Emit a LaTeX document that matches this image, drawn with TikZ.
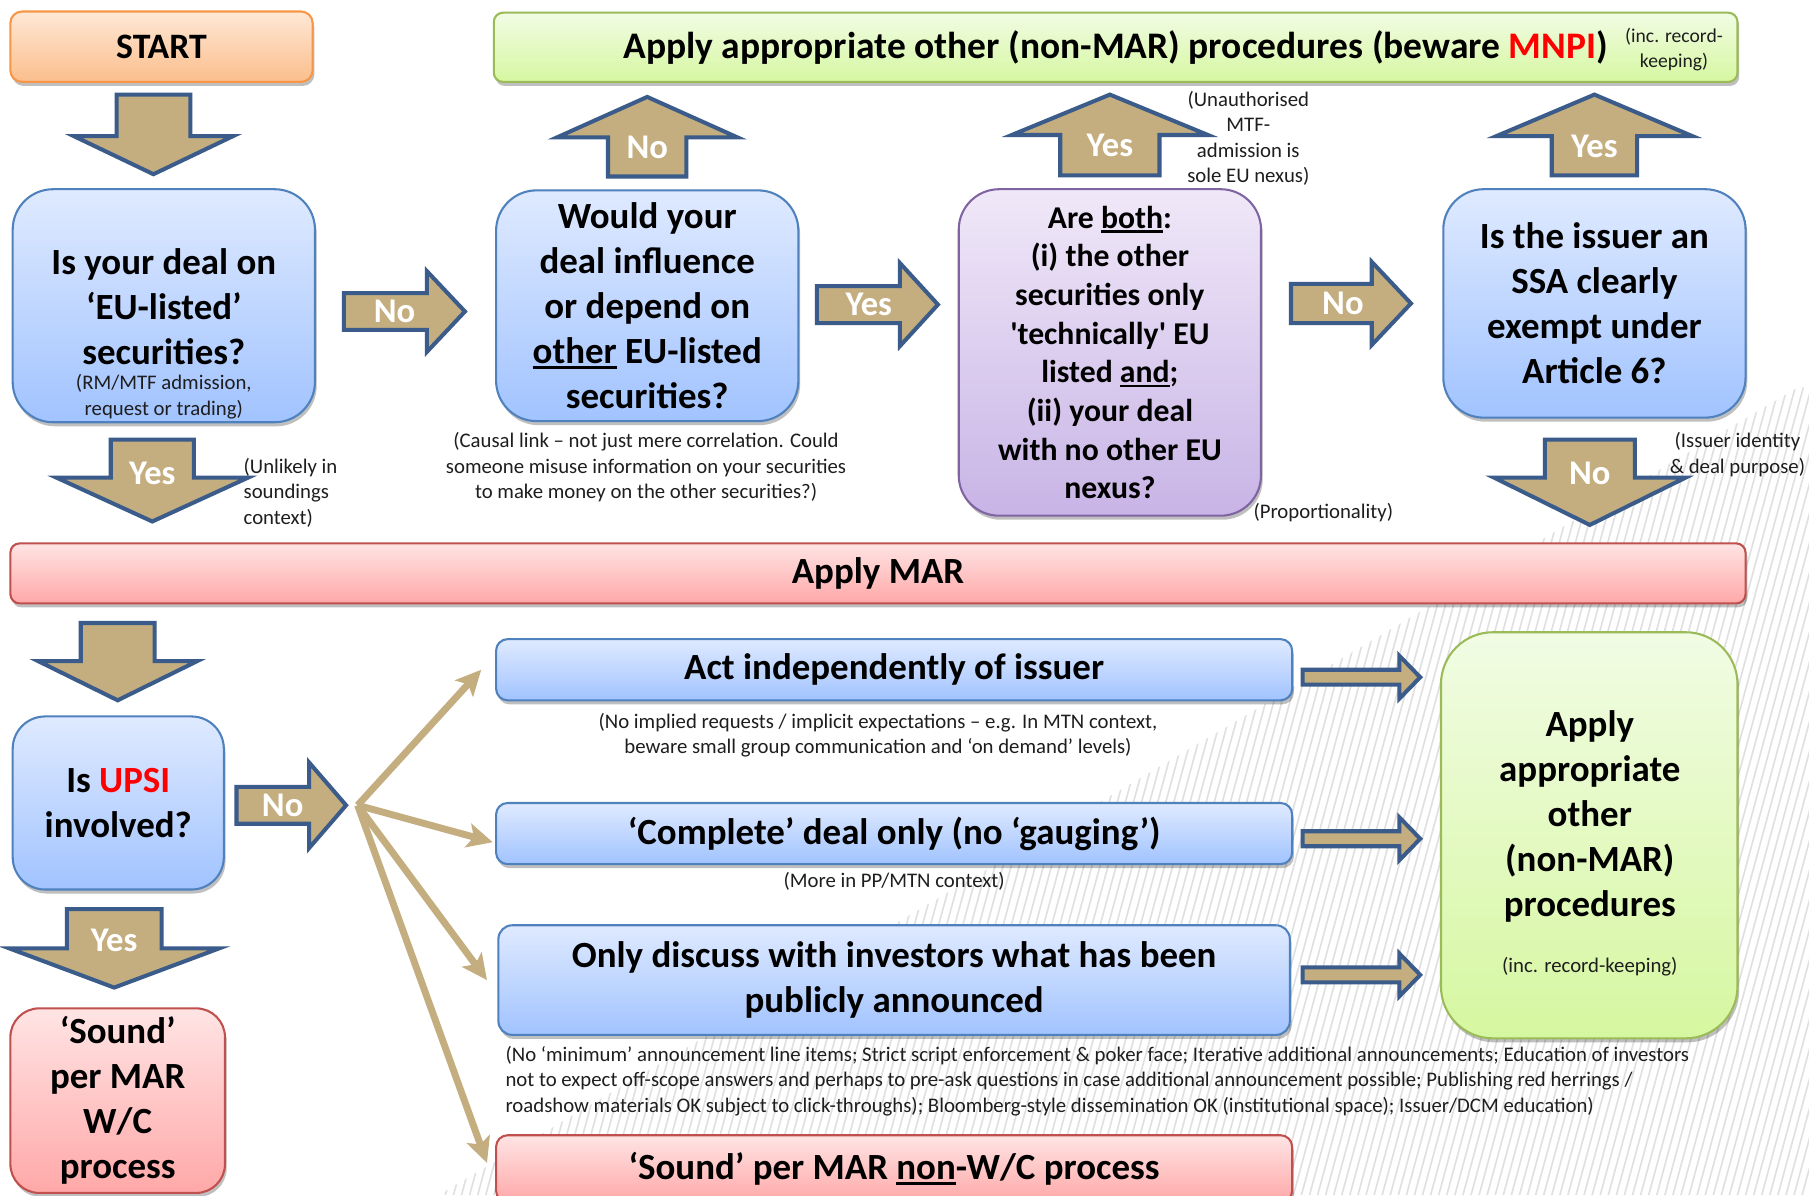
\documentclass[tikz,border=0pt]{standalone}
\usepackage{fontspec}
\setmainfont{Carlito}
\newfontfamily\rawfont{Carlito}[Ligatures=ResetAll]
\usetikzlibrary{shadows,arrows.meta,calc}

\definecolor{tan}{RGB}{196,174,127}
\definecolor{arrblue}{RGB}{59,92,138}
\definecolor{bluetop}{RGB}{223,234,255}
\definecolor{bluebot}{RGB}{161,195,255}
\definecolor{blueedge}{RGB}{79,129,189}
\definecolor{purtop}{RGB}{240,232,248}
\definecolor{purbot}{RGB}{200,180,230}
\definecolor{puredge}{RGB}{128,100,162}
\definecolor{redtop}{RGB}{255,228,228}
\definecolor{redbot}{RGB}{255,168,168}
\definecolor{rededge}{RGB}{192,80,77}
\definecolor{grntop}{RGB}{241,252,228}
\definecolor{grnbot}{RGB}{214,247,160}
\definecolor{grnedge}{RGB}{155,187,89}
\definecolor{orgtop}{RGB}{254,232,214}
\definecolor{orgbot}{RGB}{251,190,140}
\definecolor{orgedge}{RGB}{247,150,70}
\definecolor{hotred}{RGB}{255,0,0}
\definecolor{hatchgrey}{RGB}{224,224,224}
\definecolor{captext}{RGB}{30,30,30}

\newcommand{\myul}[2][4.5pt]{\setbox0\hbox{#2}\rlap{\rule[-#1]{\wd0}{2.2pt}}\box0\relax}

% vertical block arrow: name, cx, base y, shaft half, wing y, wing half, tip y, label y, label
\newcommand{\arrv}[9]{%
  \draw[barrow] ({#2-#4},#3) -- ({#2+#4},#3) -- ({#2+#4},#5) -- ({#2+#6},#5) -- (#2,#7)
     -- ({#2-#6},#5) -- ({#2-#4},#5) -- cycle;
  \node[alabel] (#1) at (#2,#8) {#9};}
% horizontal block arrow: name, cy, start x, shaft half, head x, head half, tip x, label x, label
\newcommand{\arrh}[9]{%
  \draw[barrow] (#3,{#2-#4}) -- (#5,{#2-#4}) -- (#5,{#2-#6}) -- (#7,#2) -- (#5,{#2+#6})
     -- (#5,{#2+#4}) -- (#3,{#2+#4}) -- cycle;
  \node[alabel] (#1) at (#8,#2) {#9};}

\tikzset{
  shbox/.style={draw, line width=1.8pt, rounded corners=#1, inner sep=2pt, align=center,
    drop shadow={shadow xshift=1.5pt, shadow yshift=-3.5pt, opacity=0.25, fill=black}},
  bluebox/.style={shbox=#1, draw=blueedge, top color=bluetop, bottom color=bluebot},
  purbox/.style={shbox=#1, draw=puredge, top color=purtop, bottom color=purbot},
  redbox/.style={shbox=#1, draw=rededge, top color=redtop, bottom color=redbot},
  grnbox/.style={shbox=#1, draw=grnedge, top color=grntop, bottom color=grnbot},
  orgbox/.style={shbox=#1, draw=orgedge, top color=orgtop, bottom color=orgbot},
  bigtxt/.style={font=\bfseries\fontsize{32}{39}\selectfont, align=center},
  midtxt/.style={font=\bfseries\fontsize{27.5}{33.5}\selectfont, align=center},
  captxt/.style={font=\fontsize{18}{22}\selectfont, align=center, inner sep=0pt, text=captext},
  barrow/.style={fill=tan, draw=arrblue, line width=3.5pt, line join=miter},
  alabel/.style={font=\bfseries\fontsize{30}{36}\selectfont, text=white, inner sep=0pt},
  fanline/.style={draw=tan, line width=6pt, -{Stealth[length=22pt, width=21pt, inset=5pt]}},
  hatchline/.style={draw=hatchgrey, line width=1.4pt}
}

\begin{document}
\begin{tikzpicture}[x=1pt,y=-1pt]
\useasboundingbox (0,0) rectangle (1568,1036);
\clip (0,0) rectangle (1568,1036);
\fill[white] (0,0) rectangle (1568,1036);

% decorative hatching, lower right
\begin{scope}
  \clip (380,1036) -- (1568,330) -- (1568,1036) -- cycle;
  \foreach \i in {0,...,200} {
    \draw[hatchline] ({190+7*\i},1036) -- ++(190,-700);
  }
\end{scope}

% ---------- top row ----------
\node[orgbox=10pt, minimum width=262pt, minimum height=61pt,
      font=\bfseries\fontsize{31}{37}\selectfont] (start) at (140,40.5) {START};
\node[grnbox=8pt, minimum width=1078pt, minimum height=60pt,
      font=\bfseries\fontsize{32.5}{38}\selectfont] (other) at (967,41)
      {Apply appropriate other (non-MAR) procedures (beware \textcolor{hotred}{MNPI})};
\node[font=\fontsize{17}{22}\selectfont, align=center, inner sep=0pt, text=captext] (othernote) at (1451,43)
      {(inc. record-\\keeping)};

\node[bluebox=35pt, minimum width=262pt, minimum height=202pt] (q1) at (142,265) {};
\node[bigtxt, inner sep=0pt] (q1text) at (142,266) {Is your deal on\\‘EU-listed’\\securities?};
\node[captxt] (q1sub) at (142,344) {(RM/MTF admission,\\request or trading)};

\node[bluebox=35pt, minimum width=262pt, minimum height=200pt, bigtxt] (q2) at (561,265)
      {Would your\\deal influence\\or depend on\\\myul{other} EU-listed\\securities?};

\node[purbox=35pt, minimum width=262pt, minimum height=283pt, midtxt] (q3) at (962,305.5)
      {Are \myul[4pt]{both}:\\(i) the other\\securities only\\{\rawfont\bfseries '}technically{\rawfont\bfseries '} EU\\listed \myul[4pt]{and};\\(ii) your deal\\with no other EU\\nexus?};

\node[bluebox=35pt, minimum width=262pt, minimum height=198pt, bigtxt] (q4) at (1382,263)
      {Is the issuer an\\SSA clearly\\exempt under\\Article 6?};

% arrows of the top part
\arrv{a0}{133}{82}{32}{118}{69}{151}{100}{}
\arrh{r1}{270}{298}{16}{370}{35}{403}{342}{No}
\arrh{r2}{264}{708}{16}{780}{36}{813}{753}{Yes}
\arrh{r3}{263}{1119}{17}{1189}{36}{1223}{1164}{No}
\arrv{u1}{561}{153}{34}{119}{78}{84}{128}{No}
\arrv{u2}{962}{152}{43}{117}{85}{82}{126}{Yes}
\arrv{u3}{1382}{152}{37}{118}{85}{82}{127}{Yes}
\arrv{a1}{132}{381}{36}{414}{83}{452}{410}{Yes}
\arrv{a2}{1378}{381}{39}{414}{83}{455}{410}{No}

% captions of the top part
\node[captxt] (c2) at (560,405) {(Causal link – not just mere correlation. Could\\someone misuse information on your securities\\to make money on the other securities?)};
\node[captxt, align=left, anchor=west] (c1) at (211,427) {(Unlikely in\\soundings\\context)};
\node[captxt] (c3) at (1082,120) {(Unauthorised\\MTF-\\admission is\\sole EU nexus)};
\node[captxt] (c4) at (1147,444) {(Proportionality)};
\node[captxt] (c5) at (1506,394) {(Issuer identity\\\& deal purpose)};

% ---------- Apply MAR ----------
\node[redbox=8pt, minimum width=1504pt, minimum height=52pt, bigtxt] (mar) at (761,497) {Apply MAR};

% ---------- lower part ----------
\arrv{a3}{102}{540}{32}{573}{69}{607}{560}{}
\node[bluebox=28pt, minimum width=183pt, minimum height=150pt, bigtxt] (upsi) at (102.5,696)
      {Is \textcolor{hotred}{UPSI}\\involved?};
\arrh{r4}{698}{205}{16}{268}{37}{300}{245}{No}
\arrv{a4}{99}{788}{41}{822}{91}{856}{815}{Yes}
\node[redbox=25pt, minimum width=186pt, minimum height=160pt, bigtxt] (soundwc) at (102,954)
      {‘Sound’\\per MAR\\W/C\\process};

\node[bluebox=10pt, minimum width=690pt, minimum height=53pt, bigtxt] (act) at (775,580.5)
      {Act independently of issuer};
\node[bluebox=10pt, minimum width=690pt, minimum height=53pt, bigtxt] (compl) at (775,722.5)
      {‘Complete’ deal only (no ‘gauging’)};
\node[bluebox=12pt, minimum width=686pt, minimum height=95pt, bigtxt] (only) at (775,849.5)
      {Only discuss with investors what has been\\publicly announced};
\node[redbox=10pt, minimum width=690pt, minimum height=58pt, bigtxt] (soundnon) at (775,1013)
      {‘Sound’ per MAR \myul{non}-W/C process};

\node[grnbox=45pt, minimum width=257pt, minimum height=352pt] (green) at (1377.5,724) {};
\node[bigtxt, inner sep=0pt] (greentext) at (1378,708) {Apply\\appropriate\\other\\(non-MAR)\\procedures};
\node[captxt] (greensub) at (1378,838) {(inc. record-keeping)};

% fan of arrows
\coordinate (fan) at (310,698);
\draw[fanline] (fan) -- ([xshift=-12pt]act.west);
\draw[fanline] (fan) -- ([xshift=-2pt,yshift=-7.5pt]compl.west);
\draw[fanline] (fan) -- ([xshift=-9pt]only.west);
\draw[fanline] (fan) -- ([xshift=-7pt,yshift=5pt]soundnon.west);

% thin arrows to green box
\arrh{s1}{587}{1129}{6.5}{1213}{18.5}{1231}{1150}{}
\arrh{s2}{727}{1129}{6.5}{1213}{18.5}{1231}{1150}{}
\arrh{s3}{845}{1129}{6.5}{1213}{18.5}{1231}{1150}{}

% captions of the lower part
\node[captxt] (c6) at (761,637) {(No implied requests / implicit expectations – e.g. In MTN context,\\beware small group communication and ‘on demand’ levels)};
\node[captxt] (c7) at (775,764) {(More in PP/MTN context)};
\node[captxt, align=left, anchor=west] (c8) at (438,937) {(No ‘minimum’ announcement line items; Strict script enforcement \& poker face; Iterative additional announcements; Education of investors\\not to expect off-scope answers and perhaps to pre-ask questions in case additional announcement possible; Publishing red herrings /\\roadshow materials OK subject to click-throughs); Bloomberg-style dissemination OK (institutional space); Issuer/DCM education)};
\end{tikzpicture}
\end{document}
